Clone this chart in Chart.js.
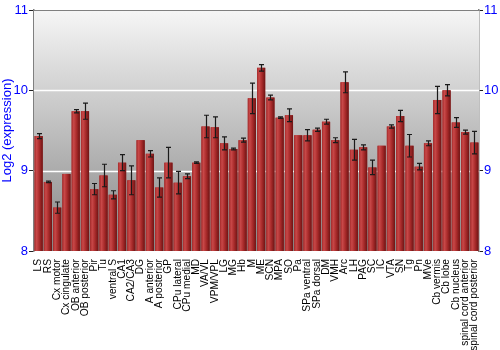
<!DOCTYPE html>
<html>
<head>
<meta charset="utf-8">
<script src="https://cdn.jsdelivr.net/npm/chart.js"></script>
<style>
  html, body { margin: 0; padding: 0; background: #fff; }
  #wrap { width: 500px; height: 350px; }
</style>
</head>
<body>
<div id="wrap"><canvas id="chart-area" width="500" height="350"></canvas></div>
<script>
var regions = ['LS', 'RS', 'Cx motor', 'Cx cingulate', 'OB anterior', 'OB posterior', 'Pir', 'Tu',
	'ventral S', 'CA1', 'CA2/CA3', 'DG', 'A anterior', 'A posterior', 'GP', 'CPu lateral', 'CPu medial',
	'MD', 'VA/VL', 'VPM/VPL', 'LG', 'MG', 'Hb', 'M', 'ME', 'SCN', 'MPA', 'SO', 'Pa', 'SPa ventral',
	'SPa dorsal', 'DM', 'VMH', 'Arc', 'LH', 'PAG', 'SC', 'IC', 'VTA', 'SN', 'Tg', 'Pn', 'MVe',
	'Cb vermis', 'Cb lobe', 'Cb nucleus', 'spinal cord anterior', 'spinal cord posterior'];

var expression = [9.43, 8.86, 8.54, 8.96, 9.74, 9.74, 8.77, 8.94,
	8.70, 9.10, 8.88, 9.38, 9.21, 8.79, 9.10, 8.85, 8.93,
	9.10, 9.55, 9.54, 9.34, 9.27, 9.38, 9.90, 10.28, 9.91, 9.66, 9.69, 9.44, 9.44,
	9.51, 9.61, 9.38, 10.10, 9.26, 9.29, 9.04, 9.31, 9.55, 9.68, 9.31, 9.05, 9.34,
	9.88, 10.00, 9.60, 9.48, 9.35];

var errors = [0.03, 0.01, 0.07, 0.00, 0.02, 0.10, 0.07, 0.14,
	0.05, 0.10, 0.18, 0.00, 0.04, 0.12, 0.19, 0.14, 0.03,
	0.01, 0.14, 0.13, 0.08, 0.01, 0.025, 0.19, 0.04, 0.03, 0.01, 0.08, 0.00, 0.07,
	0.02, 0.03, 0.03, 0.13, 0.13, 0.03, 0.09, 0.00, 0.02, 0.07, 0.14, 0.04, 0.03,
	0.17, 0.07, 0.06, 0.025, 0.14];

var yTicks = [8, 9, 10, 11];

// gray gradient behind the plot + top frame line
var backdrop = {
	id: 'backdrop',
	beforeDatasetsDraw: function (chart) {
		var a = chart.chartArea, c = chart.ctx;
		var g = c.createLinearGradient(0, a.top, 0, a.bottom);
		g.addColorStop(0, '#f6f6f6');
		g.addColorStop(1, '#868686');
		c.save();
		c.fillStyle = g;
		c.fillRect(a.left, a.top, a.right - a.left, a.bottom - a.top);
		// white grid lines over the fill
		var ys = chart.scales.y;
		c.strokeStyle = '#ffffff';
		c.lineWidth = 1.5;
		[9, 10].forEach(function (v) {
			var p = Math.round(ys.getPixelForValue(v)) + 0.5;
			c.beginPath();
			c.moveTo(a.left, p);
			c.lineTo(a.right, p);
			c.stroke();
		});
		c.strokeStyle = '#808080';
		c.lineWidth = 1;
		c.beginPath();
		c.moveTo(a.left, a.top + 0.5);
		c.lineTo(a.right, a.top + 0.5);
		c.stroke();
		c.restore();
	}
};

// shaded bars and error whiskers
var shading = {
	id: 'shading',
	afterDatasetsDraw: function (chart) {
		var c = chart.ctx, ys = chart.scales.y, a = chart.chartArea;
		var meta = chart.getDatasetMeta(0);
		c.save();
		c.beginPath();
		c.rect(a.left, a.top, a.right - a.left, a.bottom - a.top);
		c.clip();
		meta.data.forEach(function (bar, i) {
			var p = bar.getProps(['x', 'y', 'base', 'width'], true);
			var l = p.x - p.width / 2, r = p.x + p.width / 2;
			var base = Math.min(p.base, a.bottom);
			var g = c.createLinearGradient(l, 0, r, 0);
			g.addColorStop(0, '#a52a2a');
			g.addColorStop(0.25, '#c84848');
			g.addColorStop(0.6, '#a82a2a');
			g.addColorStop(1, '#6e1414');
			c.fillStyle = g;
			c.fillRect(l, p.y, p.width, base - p.y);

			var e = errors[i];
			if (e > 0) {
				var t = ys.getPixelForValue(expression[i] + e);
				var b = ys.getPixelForValue(expression[i] - e);
				var x = Math.round(p.x) + 0.5;
				c.strokeStyle = '#1a1a1a';
				c.lineWidth = 1.2;
				c.beginPath();
				c.moveTo(x, t); c.lineTo(x, b);
				c.moveTo(x - 2.5, t); c.lineTo(x + 2.5, t);
				c.moveTo(x - 2.5, b); c.lineTo(x + 2.5, b);
				c.stroke();
			}
		});
		c.restore();
	}
};

var blue = '#0000ff';
var font = { family: '"Liberation Sans", Arial, sans-serif', size: 13 };

var myBar = new Chart(document.getElementById('chart-area'), {
	type: 'bar',
	data: {
		labels: regions,
		datasets: [{
			data: expression,
			backgroundColor: '#a82a2a',
			borderWidth: 0,
			barPercentage: 0.88,
			categoryPercentage: 1.0
		}]
	},
	options: {
		responsive: false,
		animation: false,
		layout: { padding: { top: 10, left: 0, right: 0, bottom: 0 } },
		plugins: {
			legend: { display: false },
			tooltip: { enabled: false }
		},
		scales: {
			x: {
				grid: { display: false },
				border: { display: false },
				ticks: {
					autoSkip: false,
					minRotation: 90,
					maxRotation: 90,
					color: '#000',
					padding: 0,
					font: { family: '"Liberation Sans", Arial, sans-serif', size: 10.2 }
				},
				afterFit: function (s) { s.height = 99; }
			},
			y: {
				min: 8,
				max: 11,
				afterBuildTicks: function (s) {
					s.ticks = yTicks.map(function (v) { return { value: v }; });
				},
				grid: {
					color: 'rgba(0,0,0,0)',
					tickColor: '#222',
					tickLength: 5
				},
				border: { color: '#808080', width: 1.5 },
				ticks: { color: blue, font: font, padding: 1 },
				title: {
					display: true,
					text: 'Log2 (expression)',
					color: blue,
					font: { family: '"Liberation Sans", Arial, sans-serif', size: 13 },
					padding: 0
				},
				afterFit: function (s) { s.width = 34; }
			},
			y2: {
				position: 'right',
				min: 8,
				max: 11,
				afterBuildTicks: function (s) {
					s.ticks = yTicks.map(function (v) { return { value: v }; });
				},
				grid: {
					drawOnChartArea: false,
					tickColor: '#222',
					tickLength: 4
				},
				border: { color: '#808080', width: 1.5 },
				ticks: { color: blue, font: font, padding: 1 },
				afterFit: function (s) { s.width = 21; }
			}
		}
	},
	plugins: [backdrop, shading]
});
</script>
</body>
</html>
